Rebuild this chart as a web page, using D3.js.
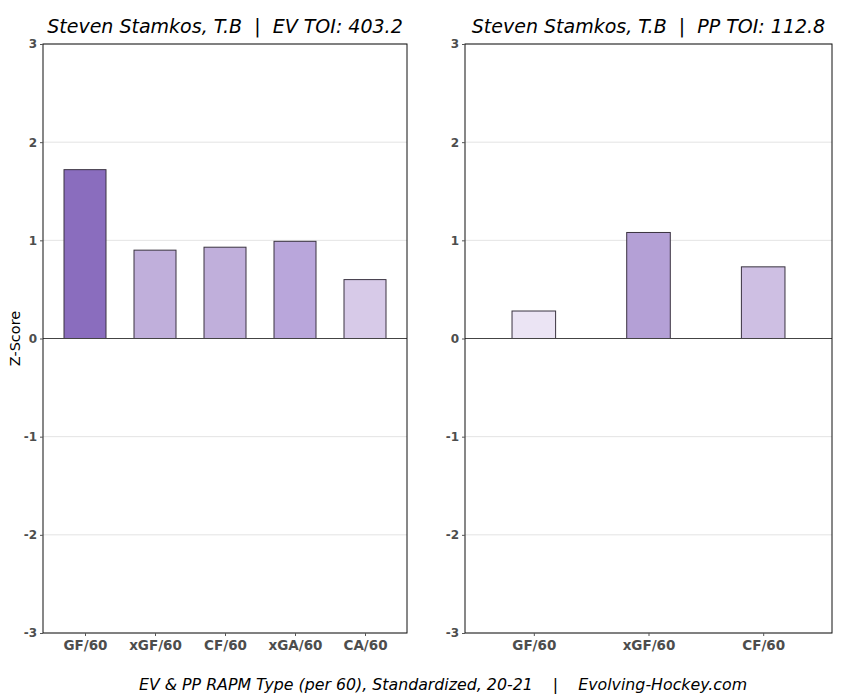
<!DOCTYPE html>
<html><head><meta charset="utf-8">
<script src="https://cdn.jsdelivr.net/npm/d3@7"></script>
<style>body{margin:0;background:#fff}</style>
</head><body><svg id="c" width="850" height="700"></svg>
<script>
const evCategories = ["GF/60","xGF/60","CF/60","xGA/60","CA/60"];
const evValues = [1.72, 0.90, 0.93, 0.99, 0.60];
const evColors = ["#8a6dbe","#c0afdb","#c0afdb","#b9a6db","#d7cae8"];
const ppCategories = ["GF/60","xGF/60","CF/60"];
const ppValues = [0.28, 1.08, 0.73];
const ppColors = ["#ebe4f4","#b4a0d6","#cebfe3"];
const yTicks = [-3,-2,-1,0,1,2,3];
const evTitle = "Steven Stamkos, T.B  |  EV TOI: 403.2";
const ppTitle = "Steven Stamkos, T.B  |  PP TOI: 112.8";
const caption = "EV & PP RAPM Type (per 60), Standardized, 20-21    |    Evolving-Hockey.com";

const svg = d3.select("#c");
const plotTop = 44, plotBottom = 633;
const y = d3.scaleLinear().domain([-3,3]).range([plotBottom, plotTop]);

function panel(x0, x1, cats, vals, cols, title, barW) {
  const n = cats.length;
  const x = d3.scaleLinear().domain([-0.6, n - 1 + 0.6]).range([x0, x1]);
  const unit = x(1) - x(0);
  const g = svg.append("g");
  g.selectAll("line.grid").data(yTicks.filter(t => t !== 0)).enter().append("line")
    .attr("x1", x0).attr("x2", x1).attr("y1", d => y(d)).attr("y2", d => y(d))
    .attr("stroke", "#dcdcdc").attr("stroke-width", 0.8);
  g.selectAll("rect.bar").data(vals).enter().append("rect")
    .attr("x", (d, i) => x(i) - unit * barW / 2)
    .attr("width", unit * barW)
    .attr("y", d => y(Math.max(d, 0)))
    .attr("height", d => Math.abs(y(d) - y(0)))
    .attr("fill", (d, i) => cols[i])
    .attr("stroke", "#3a3340").attr("stroke-width", 1);
  g.append("line").attr("x1", x0).attr("x2", x1).attr("y1", y(0)).attr("y2", y(0))
    .attr("stroke", "#444").attr("stroke-width", 1.2);
  g.append("rect").attr("x", x0).attr("y", plotTop).attr("width", x1 - x0).attr("height", plotBottom - plotTop)
    .attr("fill", "none").attr("stroke", "#111").attr("stroke-width", 1);
  const ya = d3.axisLeft(y).tickValues(yTicks).tickSize(3).tickPadding(3).tickFormat(d => String(d));
  const yg = g.append("g").attr("transform", `translate(${x0},0)`).call(ya);
  yg.select(".domain").remove();
  yg.selectAll("line").attr("stroke", "#555");
  yg.selectAll("text").attr("font-family", "DejaVu Sans").attr("font-size", 12).attr("font-weight", "bold").attr("fill", "#4d4d4d");
  const xa = d3.axisBottom(x).tickValues(d3.range(n)).tickSize(3).tickPadding(4).tickFormat(i => cats[i]);
  const xg = g.append("g").attr("transform", `translate(0,${plotBottom})`).call(xa);
  xg.select(".domain").remove();
  xg.selectAll("line").attr("stroke", "#555");
  xg.selectAll("text").attr("font-family", "DejaVu Sans").attr("font-size", 13.5).attr("font-weight", "bold").attr("fill", "#4d4d4d");
  g.append("text").attr("x", (x0 + x1) / 2).attr("y", 33).attr("text-anchor", "middle")
    .attr("font-family", "DejaVu Sans").attr("font-style", "italic").attr("font-size", 19).attr("fill", "#000")
    .style("white-space", "pre").text(title);
}

panel(43, 407, evCategories, evValues, evColors, evTitle, 0.6);
panel(465, 832, ppCategories, ppValues, ppColors, ppTitle, 0.38);

svg.append("text").attr("transform", `translate(20,${y(0)}) rotate(-90)`).attr("text-anchor", "middle")
  .attr("font-family", "DejaVu Sans").attr("font-size", 14.5).attr("fill", "#000").text("Z-Score");
svg.append("text").attr("x", 443).attr("y", 690).attr("text-anchor", "middle")
  .attr("font-family", "DejaVu Sans").attr("font-style", "italic").attr("font-size", 15.8).attr("fill", "#000")
  .style("white-space", "pre").text(caption);
</script></body></html>
